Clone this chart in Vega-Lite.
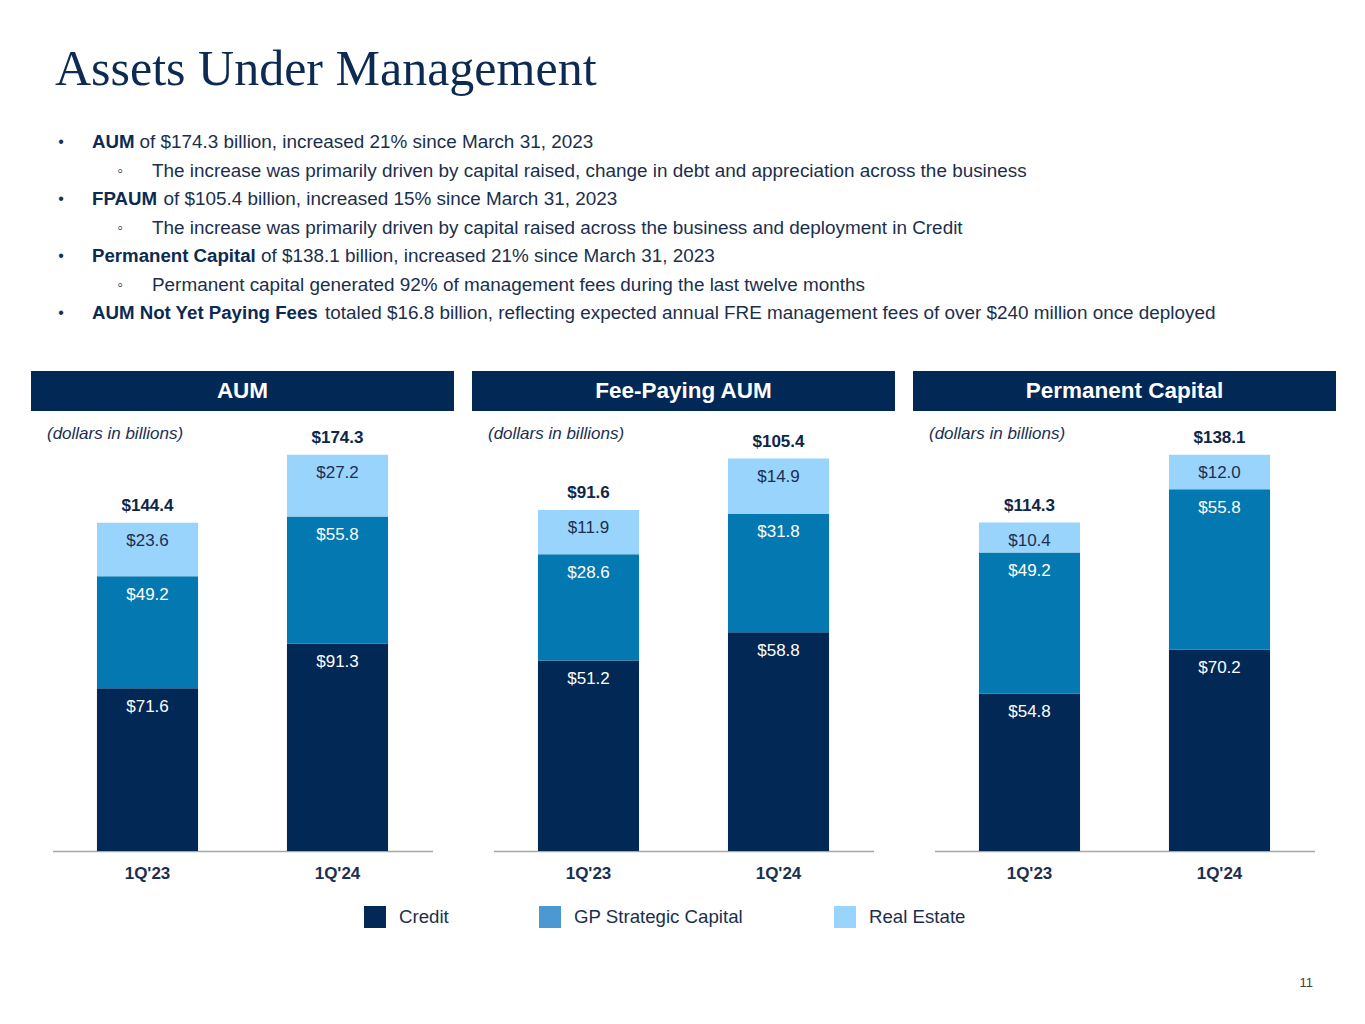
{
  "$schema": "https://vega.github.io/schema/vega-lite/v6.json",
  "background": "white",
  "padding": {"left": 31, "top": 45, "right": 0, "bottom": 0},
  "title": {"text": "Assets Under Management", "font": "Liberation Serif", "fontSize": 50, "fontWeight": "normal", "color": "#0c2a52", "anchor": "start", "dx": 24, "offset": -7, "baseline": "alphabetic"},
  "datasets": {
    "bullets": [
      {"line": 0, "level": 0, "marker": "•", "bold": "AUM", "text": "of $174.3 billion, increased 21% since March 31, 2023"},
      {"line": 1, "level": 1, "marker": "◦", "bold": "", "text": "The increase was primarily driven by capital raised, change in debt and appreciation across the business"},
      {"line": 2, "level": 0, "marker": "•", "bold": "FPAUM", "text": "of $105.4 billion, increased 15% since March 31, 2023"},
      {"line": 3, "level": 1, "marker": "◦", "bold": "", "text": "The increase was primarily driven by capital raised across the business and deployment in Credit"},
      {"line": 4, "level": 0, "marker": "•", "bold": "Permanent Capital", "text": "of $138.1 billion, increased 21% since March 31, 2023"},
      {"line": 5, "level": 1, "marker": "◦", "bold": "", "text": "Permanent capital generated 92% of management fees during the last twelve months"},
      {"line": 6, "level": 0, "marker": "•", "bold": "AUM Not Yet Paying Fees", "text": "totaled $16.8 billion, reflecting expected annual FRE management fees of over $240 million once deployed"}
    ],
    "headers": [
      {"panel": "AUM"},
      {"panel": "Fee-Paying AUM"},
      {"panel": "Permanent Capital"}
    ],
    "segments": [
      {"panel": "AUM", "quarter": "1Q'23", "segment": "Credit", "value": 71.6},
      {"panel": "AUM", "quarter": "1Q'23", "segment": "GP Strategic Capital", "value": 49.2},
      {"panel": "AUM", "quarter": "1Q'23", "segment": "Real Estate", "value": 23.6},
      {"panel": "AUM", "quarter": "1Q'24", "segment": "Credit", "value": 91.3},
      {"panel": "AUM", "quarter": "1Q'24", "segment": "GP Strategic Capital", "value": 55.8},
      {"panel": "AUM", "quarter": "1Q'24", "segment": "Real Estate", "value": 27.2},
      {"panel": "Fee-Paying AUM", "quarter": "1Q'23", "segment": "Credit", "value": 51.2},
      {"panel": "Fee-Paying AUM", "quarter": "1Q'23", "segment": "GP Strategic Capital", "value": 28.6},
      {"panel": "Fee-Paying AUM", "quarter": "1Q'23", "segment": "Real Estate", "value": 11.9},
      {"panel": "Fee-Paying AUM", "quarter": "1Q'24", "segment": "Credit", "value": 58.8},
      {"panel": "Fee-Paying AUM", "quarter": "1Q'24", "segment": "GP Strategic Capital", "value": 31.8},
      {"panel": "Fee-Paying AUM", "quarter": "1Q'24", "segment": "Real Estate", "value": 14.9},
      {"panel": "Permanent Capital", "quarter": "1Q'23", "segment": "Credit", "value": 54.8},
      {"panel": "Permanent Capital", "quarter": "1Q'23", "segment": "GP Strategic Capital", "value": 49.2},
      {"panel": "Permanent Capital", "quarter": "1Q'23", "segment": "Real Estate", "value": 10.4},
      {"panel": "Permanent Capital", "quarter": "1Q'24", "segment": "Credit", "value": 70.2},
      {"panel": "Permanent Capital", "quarter": "1Q'24", "segment": "GP Strategic Capital", "value": 55.8},
      {"panel": "Permanent Capital", "quarter": "1Q'24", "segment": "Real Estate", "value": 12.0}
    ],
    "totals": [
      {"panel": "AUM", "quarter": "1Q'23", "total": 144.4},
      {"panel": "AUM", "quarter": "1Q'24", "total": 174.3},
      {"panel": "Fee-Paying AUM", "quarter": "1Q'23", "total": 91.6},
      {"panel": "Fee-Paying AUM", "quarter": "1Q'24", "total": 105.4},
      {"panel": "Permanent Capital", "quarter": "1Q'23", "total": 114.3},
      {"panel": "Permanent Capital", "quarter": "1Q'24", "total": 138.1}
    ],
    "footer": [{"t": ""}]
  },
  "spacing": 43,
  "vconcat": [
    {
      "width": 1305,
      "height": {"step": 28.5},
      "data": {"name": "bullets"},
      "encoding": {
        "y": {"field": "line", "type": "ordinal", "axis": null},
        "x": {"field": "level", "type": "quantitative", "axis": null, "scale": {"domain": [0, 1], "range": [30, 89]}}
      },
      "layer": [
        {"mark": {"type": "text", "align": "center", "baseline": "middle", "fontSize": 16, "color": "#1b2f52"}, "encoding": {"text": {"field": "marker"}}},
        {"transform": [{"filter": "datum.level === 0"}], "mark": {"type": "text", "align": "left", "baseline": "middle", "fontSize": 18.67, "fontWeight": "bold", "dx": 31, "color": "#0c2a52"}, "encoding": {"text": {"field": "bold"}}},
        {"transform": [{"filter": "datum.line === 0"}], "mark": {"type": "text", "align": "left", "baseline": "middle", "fontSize": 18.9, "dx": 78.5, "color": "#1b2f4d"}, "encoding": {"text": {"field": "text"}}},
        {"transform": [{"filter": "datum.line === 2"}], "mark": {"type": "text", "align": "left", "baseline": "middle", "fontSize": 18.9, "dx": 102.5, "color": "#1b2f4d"}, "encoding": {"text": {"field": "text"}}},
        {"transform": [{"filter": "datum.line === 4"}], "mark": {"type": "text", "align": "left", "baseline": "middle", "fontSize": 18.9, "dx": 200, "color": "#1b2f4d"}, "encoding": {"text": {"field": "text"}}},
        {"transform": [{"filter": "datum.line === 6"}], "mark": {"type": "text", "align": "left", "baseline": "middle", "fontSize": 18.9, "dx": 264, "color": "#1b2f4d"}, "encoding": {"text": {"field": "text"}}},
        {"transform": [{"filter": "datum.level === 1"}], "mark": {"type": "text", "align": "left", "baseline": "middle", "fontSize": 18.9, "dx": 32, "color": "#1b2f4d"}, "encoding": {"text": {"field": "text"}}}
      ]
    },
    {
      "spacing": 18,
      "hconcat": [
        {
          "spacing": 10, "center": true, "bounds": "flush",
          "vconcat": [
            {"width": 423, "height": 40, "view": {"fill": "#022856", "stroke": null}, "data": {"name": "headers"}, "transform": [{"filter": "datum.panel === 'AUM'"}], "mark": {"type": "text", "color": "white", "fontSize": 22.5, "fontWeight": "bold", "baseline": "middle", "align": "center"}, "encoding": {"text": {"field": "panel"}}},
            {
              "width": 380, "height": 430,
              "title": {"text": "(dollars in billions)", "anchor": "start", "dx": -5.5, "offset": -30, "baseline": "middle", "fontSize": 17, "fontStyle": "italic", "fontWeight": "normal", "color": "#1b2f52"},
              "layer": [
                {"data": {"name": "segments"}, "transform": [{"filter": "datum.panel === 'AUM'"}, {"stack": "value", "groupby": ["quarter"], "sort": [{"field": "segment", "order": "ascending"}], "as": ["v0", "v1"]}],
                 "mark": {"type": "bar"},
                 "encoding": {
                   "x": {"field": "quarter", "type": "nominal", "sort": ["1Q'23", "1Q'24"], "title": null, "axis": {"labelAngle": 0}, "scale": {"paddingInner": 0.468, "paddingOuter": 0.234}},
                   "y": {"field": "v1", "type": "quantitative", "axis": null, "scale": {"domain": [0, 189.1], "nice": false}},
                   "y2": {"field": "v0"},
                   "fill": {"field": "segment", "type": "nominal", "legend": null, "scale": {"domain": ["Real Estate", "GP Strategic Capital", "Credit"], "range": ["#99d4fc", "#0478b0", "#022856"]}}
                 }},
                {"data": {"name": "segments"}, "transform": [{"filter": "datum.panel === 'AUM'"}, {"stack": "value", "groupby": ["quarter"], "sort": [{"field": "segment", "order": "ascending"}], "as": ["v0", "v1"]}],
                 "mark": {"type": "bar"},
                 "encoding": {
                   "x": {"field": "quarter", "type": "nominal", "sort": ["1Q'23", "1Q'24"]},
                   "y": {"field": "v0", "type": "quantitative", "scale": {"domain": [0, 189.1], "nice": false}},
                   "y2": {"field": "v0"},
                   "color": {"field": "segment", "type": "nominal", "title": null, "scale": {"domain": ["Credit", "GP Strategic Capital", "Real Estate"], "range": ["#022856", "#4b98d3", "#99d4fc"]},
                     "legend": {"orient": "none", "legendX": 333, "legendY": 778, "direction": "horizontal", "padding": 0, "symbolType": "square", "symbolSize": 484, "symbolStrokeWidth": 0, "labelFontSize": 18.67, "labelColor": "#1b2f4d", "labelOffset": 13, "columnPadding": 90, "labelLimit": 400}}
                 }},
                {"data": {"name": "segments"}, "transform": [{"filter": "datum.panel === 'AUM'"}, {"stack": "value", "groupby": ["quarter"], "sort": [{"field": "segment", "order": "ascending"}], "as": ["v0", "v1"]}],
                 "mark": {"type": "text", "dy": 18.5, "baseline": "middle", "fontSize": 17},
                 "encoding": {
                   "x": {"field": "quarter", "type": "nominal", "sort": ["1Q'23", "1Q'24"]},
                   "y": {"field": "v1", "type": "quantitative", "scale": {"domain": [0, 189.1], "nice": false}},
                   "text": {"field": "value", "type": "quantitative", "format": "$.1f"},
                   "color": {"condition": {"test": "datum.segment === 'Real Estate'", "value": "#1b2f52"}, "value": "white"}
                 }},
                {"data": {"name": "totals"}, "transform": [{"filter": "datum.panel === 'AUM'"}],
                 "mark": {"type": "text", "dy": -17, "baseline": "middle", "fontSize": 17, "fontWeight": "bold", "color": "#0e2648"},
                 "encoding": {
                   "x": {"field": "quarter", "type": "nominal", "sort": ["1Q'23", "1Q'24"]},
                   "y": {"field": "total", "type": "quantitative", "scale": {"domain": [0, 189.1], "nice": false}},
                   "text": {"field": "total", "type": "quantitative", "format": "$.1f"}
                 }}
              ]
            }
          ]
        },
        {
          "spacing": 10, "center": true, "bounds": "flush",
          "vconcat": [
            {"width": 423, "height": 40, "view": {"fill": "#022856", "stroke": null}, "data": {"name": "headers"}, "transform": [{"filter": "datum.panel === 'Fee-Paying AUM'"}], "mark": {"type": "text", "color": "white", "fontSize": 22.5, "fontWeight": "bold", "baseline": "middle", "align": "center"}, "encoding": {"text": {"field": "panel"}}},
            {
              "width": 380, "height": 430,
              "title": {"text": "(dollars in billions)", "anchor": "start", "dx": -5.5, "offset": -30, "baseline": "middle", "fontSize": 17, "fontStyle": "italic", "fontWeight": "normal", "color": "#1b2f52"},
              "layer": [
                {"data": {"name": "segments"}, "transform": [{"filter": "datum.panel === 'Fee-Paying AUM'"}, {"stack": "value", "groupby": ["quarter"], "sort": [{"field": "segment", "order": "ascending"}], "as": ["v0", "v1"]}],
                 "mark": {"type": "bar"},
                 "encoding": {
                   "x": {"field": "quarter", "type": "nominal", "sort": ["1Q'23", "1Q'24"], "title": null, "axis": {"labelAngle": 0}, "scale": {"paddingInner": 0.468, "paddingOuter": 0.234}},
                   "y": {"field": "v1", "type": "quantitative", "axis": null, "scale": {"domain": [0, 115.6], "nice": false}},
                   "y2": {"field": "v0"},
                   "fill": {"field": "segment", "type": "nominal", "legend": null, "scale": {"domain": ["Real Estate", "GP Strategic Capital", "Credit"], "range": ["#99d4fc", "#0478b0", "#022856"]}}
                 }},
                {"data": {"name": "segments"}, "transform": [{"filter": "datum.panel === 'Fee-Paying AUM'"}, {"stack": "value", "groupby": ["quarter"], "sort": [{"field": "segment", "order": "ascending"}], "as": ["v0", "v1"]}],
                 "mark": {"type": "bar"},
                 "encoding": {
                   "x": {"field": "quarter", "type": "nominal", "sort": ["1Q'23", "1Q'24"]},
                   "y": {"field": "v0", "type": "quantitative", "scale": {"domain": [0, 115.6], "nice": false}},
                   "y2": {"field": "v0"},
                   "color": {"field": "segment", "type": "nominal", "title": null, "scale": {"domain": ["Credit", "GP Strategic Capital", "Real Estate"], "range": ["#022856", "#4b98d3", "#99d4fc"]},
                     "legend": {"orient": "none", "legendX": 333, "legendY": 778, "direction": "horizontal", "padding": 0, "symbolType": "square", "symbolSize": 484, "symbolStrokeWidth": 0, "labelFontSize": 18.67, "labelColor": "#1b2f4d", "labelOffset": 13, "columnPadding": 90, "labelLimit": 400}}
                 }},
                {"data": {"name": "segments"}, "transform": [{"filter": "datum.panel === 'Fee-Paying AUM'"}, {"stack": "value", "groupby": ["quarter"], "sort": [{"field": "segment", "order": "ascending"}], "as": ["v0", "v1"]}],
                 "mark": {"type": "text", "dy": 18.5, "baseline": "middle", "fontSize": 17},
                 "encoding": {
                   "x": {"field": "quarter", "type": "nominal", "sort": ["1Q'23", "1Q'24"]},
                   "y": {"field": "v1", "type": "quantitative", "scale": {"domain": [0, 115.6], "nice": false}},
                   "text": {"field": "value", "type": "quantitative", "format": "$.1f"},
                   "color": {"condition": {"test": "datum.segment === 'Real Estate'", "value": "#1b2f52"}, "value": "white"}
                 }},
                {"data": {"name": "totals"}, "transform": [{"filter": "datum.panel === 'Fee-Paying AUM'"}],
                 "mark": {"type": "text", "dy": -17, "baseline": "middle", "fontSize": 17, "fontWeight": "bold", "color": "#0e2648"},
                 "encoding": {
                   "x": {"field": "quarter", "type": "nominal", "sort": ["1Q'23", "1Q'24"]},
                   "y": {"field": "total", "type": "quantitative", "scale": {"domain": [0, 115.6], "nice": false}},
                   "text": {"field": "total", "type": "quantitative", "format": "$.1f"}
                 }}
              ]
            }
          ]
        },
        {
          "spacing": 10, "center": true, "bounds": "flush",
          "vconcat": [
            {"width": 423, "height": 40, "view": {"fill": "#022856", "stroke": null}, "data": {"name": "headers"}, "transform": [{"filter": "datum.panel === 'Permanent Capital'"}], "mark": {"type": "text", "color": "white", "fontSize": 22.5, "fontWeight": "bold", "baseline": "middle", "align": "center"}, "encoding": {"text": {"field": "panel"}}},
            {
              "width": 380, "height": 430,
              "title": {"text": "(dollars in billions)", "anchor": "start", "dx": -5.5, "offset": -30, "baseline": "middle", "fontSize": 17, "fontStyle": "italic", "fontWeight": "normal", "color": "#1b2f52"},
              "layer": [
                {"data": {"name": "segments"}, "transform": [{"filter": "datum.panel === 'Permanent Capital'"}, {"stack": "value", "groupby": ["quarter"], "sort": [{"field": "segment", "order": "ascending"}], "as": ["v0", "v1"]}],
                 "mark": {"type": "bar"},
                 "encoding": {
                   "x": {"field": "quarter", "type": "nominal", "sort": ["1Q'23", "1Q'24"], "title": null, "axis": {"labelAngle": 0}, "scale": {"paddingInner": 0.468, "paddingOuter": 0.234}},
                   "y": {"field": "v1", "type": "quantitative", "axis": null, "scale": {"domain": [0, 149.8], "nice": false}},
                   "y2": {"field": "v0"},
                   "fill": {"field": "segment", "type": "nominal", "legend": null, "scale": {"domain": ["Real Estate", "GP Strategic Capital", "Credit"], "range": ["#99d4fc", "#0478b0", "#022856"]}}
                 }},
                {"data": {"name": "segments"}, "transform": [{"filter": "datum.panel === 'Permanent Capital'"}, {"stack": "value", "groupby": ["quarter"], "sort": [{"field": "segment", "order": "ascending"}], "as": ["v0", "v1"]}],
                 "mark": {"type": "bar"},
                 "encoding": {
                   "x": {"field": "quarter", "type": "nominal", "sort": ["1Q'23", "1Q'24"]},
                   "y": {"field": "v0", "type": "quantitative", "scale": {"domain": [0, 149.8], "nice": false}},
                   "y2": {"field": "v0"},
                   "color": {"field": "segment", "type": "nominal", "title": null, "scale": {"domain": ["Credit", "GP Strategic Capital", "Real Estate"], "range": ["#022856", "#4b98d3", "#99d4fc"]},
                     "legend": {"orient": "none", "legendX": 333, "legendY": 778, "direction": "horizontal", "padding": 0, "symbolType": "square", "symbolSize": 484, "symbolStrokeWidth": 0, "labelFontSize": 18.67, "labelColor": "#1b2f4d", "labelOffset": 13, "columnPadding": 90, "labelLimit": 400}}
                 }},
                {"data": {"name": "segments"}, "transform": [{"filter": "datum.panel === 'Permanent Capital'"}, {"stack": "value", "groupby": ["quarter"], "sort": [{"field": "segment", "order": "ascending"}], "as": ["v0", "v1"]}],
                 "mark": {"type": "text", "dy": 18.5, "baseline": "middle", "fontSize": 17},
                 "encoding": {
                   "x": {"field": "quarter", "type": "nominal", "sort": ["1Q'23", "1Q'24"]},
                   "y": {"field": "v1", "type": "quantitative", "scale": {"domain": [0, 149.8], "nice": false}},
                   "text": {"field": "value", "type": "quantitative", "format": "$.1f"},
                   "color": {"condition": {"test": "datum.segment === 'Real Estate'", "value": "#1b2f52"}, "value": "white"}
                 }},
                {"data": {"name": "totals"}, "transform": [{"filter": "datum.panel === 'Permanent Capital'"}],
                 "mark": {"type": "text", "dy": -17, "baseline": "middle", "fontSize": 17, "fontWeight": "bold", "color": "#0e2648"},
                 "encoding": {
                   "x": {"field": "quarter", "type": "nominal", "sort": ["1Q'23", "1Q'24"]},
                   "y": {"field": "total", "type": "quantitative", "scale": {"domain": [0, 149.8], "nice": false}},
                   "text": {"field": "total", "type": "quantitative", "format": "$.1f"}
                 }}
              ]
            }
          ]
        }
      ]
    },
    {
      "width": 1282, "height": 60,
      "title": {"text": "11", "anchor": "end", "offset": -72, "baseline": "middle", "fontSize": 13, "fontWeight": "normal", "color": "#404040"},
      "data": {"name": "footer"},
      "mark": {"type": "text"},
      "encoding": {"text": {"field": "t"}}
    }
  ],
  "config": {
    "font": "Liberation Sans",
    "view": {"stroke": null},
    "axisX": {"domainColor": "#a6a6a6", "domainWidth": 1.5, "ticks": false, "labelFontSize": 17, "labelFontWeight": "bold", "labelColor": "#1b2f52", "labelPadding": 14, "grid": false}
  }
}
